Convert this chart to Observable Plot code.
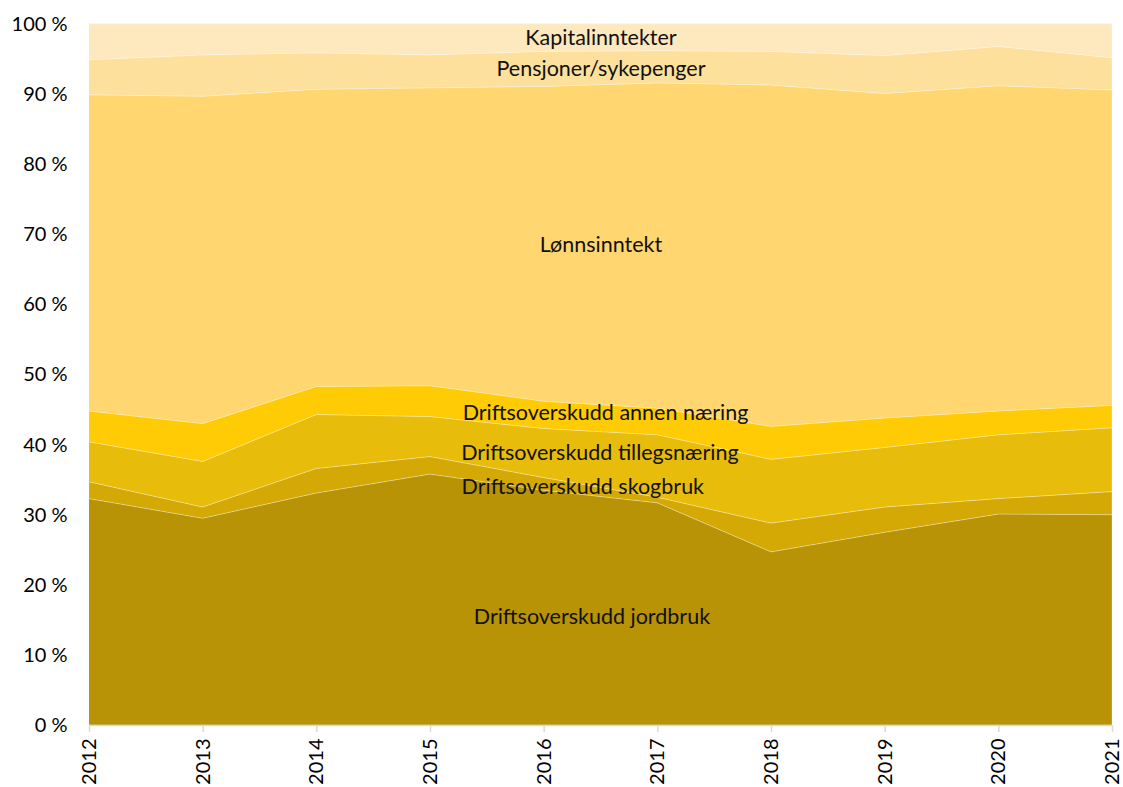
<!DOCTYPE html>
<html>
<head>
<meta charset="utf-8">
<script src="https://cdn.jsdelivr.net/npm/d3@7"></script>
<script src="https://cdn.jsdelivr.net/npm/@observablehq/plot@0.6"></script>
<style>
  html, body { margin: 0; padding: 0; background: #fff; }
  #chart { width: 1123px; height: 787px; }
</style>
</head>
<body>
<div id="chart"></div>
<script>
const years = [2012, 2013, 2014, 2015, 2016, 2017, 2018, 2019, 2020, 2021];
const seriesNames = [
  "Driftsoverskudd jordbruk",
  "Driftsoverskudd skogbruk",
  "Driftsoverskudd tillegsnæring",
  "Driftsoverskudd annen næring",
  "Lønnsinntekt",
  "Pensjoner/sykepenger",
  "Kapitalinntekter"
];
const jordbruk  = [32.3, 29.5, 33.1, 35.8, 33.5, 31.7, 24.7, 27.5, 30.1, 30.0];
const skogbruk  = [2.4, 1.6, 3.5, 2.5, 1.8, 0.8, 4.1, 3.6, 2.2, 3.3];
const tillegg   = [5.7, 6.5, 7.7, 5.7, 7.0, 8.9, 9.1, 8.5, 9.1, 9.1];
const annen     = [4.4, 5.4, 4.0, 4.4, 3.9, 3.8, 4.7, 4.2, 3.4, 3.2];
const lonn      = [45.1, 46.7, 42.4, 42.5, 44.9, 46.4, 48.7, 46.3, 46.4, 45.0];
const pensjon   = [5.0, 5.9, 5.2, 4.7, 5.0, 4.6, 4.8, 5.4, 5.6, 4.6];
const kapital   = [5.1, 4.4, 4.1, 4.4, 3.9, 3.8, 3.9, 4.5, 3.2, 4.8];
const colors = ["#b79305", "#d4a805", "#e8bc0a", "#ffcb05", "#ffd66f", "#fee09d", "#fee8bd"];
const yTicks = [0, 10, 20, 30, 40, 50, 60, 70, 80, 90, 100];

// in-chart labels (data coordinates)
const labelTexts = ["Kapitalinntekter", "Pensjoner/sykepenger", "Lønnsinntekt",
  "Driftsoverskudd annen næring", "Driftsoverskudd tillegsnæring",
  "Driftsoverskudd skogbruk", "Driftsoverskudd jordbruk"];
const labelX = [2016.5, 2016.5, 2016.5, 2016.54, 2016.49, 2016.34, 2016.42];
const labelY = [98.0, 93.7, 68.5, 44.5, 38.8, 34.0, 15.5];

const valueLists = [jordbruk, skogbruk, tillegg, annen, lonn, pensjon, kapital];
const data = [];
seriesNames.forEach((s, i) => {
  years.forEach((yr, j) => data.push({series: s, year: yr, value: valueLists[i][j]}));
});
const labels = labelTexts.map((t, i) => ({text: t, x: labelX[i], y: labelY[i]}));

const chart = Plot.plot({
  width: 1123,
  height: 787,
  marginLeft: 89,
  marginRight: 11,
  marginTop: 24,
  marginBottom: 62,
  style: {fontFamily: "Lato, 'Open Sans', sans-serif", fontSize: "20px", color: "#000", background: "#fff"},
  x: {domain: [2012, 2021], label: null},
  y: {domain: [0, 100], label: null},
  color: {domain: seriesNames, range: colors},
  marks: [
    Plot.ruleY([100], {stroke: "#d9d9d9", strokeWidth: 1.5}),
    Plot.areaY(data, Plot.stackY({
      x: "year", y: "value", z: "series", fill: "series", order: seriesNames,
      stroke: "#fff", strokeOpacity: 0.35, strokeWidth: 0.8
    })),
    Plot.ruleY([0], {stroke: "#d9d9d9", strokeWidth: 1.5}),
    Plot.axisY({ticks: yTicks, tickSize: 0, tickPadding: 22, tickFormat: d => d + " %", fontSize: 20,
      fontFamily: "Lato, sans-serif"}),
    Plot.axisX({ticks: years, tickFormat: d => String(d), tickRotate: -90, tickSize: 7, tickPadding: 6,
      stroke: "#d9d9d9", strokeWidth: 1.5, fontSize: 20, fontFamily: "Lato, sans-serif"}),
    Plot.text(labels, {x: "x", y: "y", text: "text", fontFamily: "Lato, 'Open Sans', sans-serif",
      fontSize: 21.5, fill: "#111"})
  ]
});
document.getElementById("chart").appendChild(chart);
</script>
</body>
</html>
